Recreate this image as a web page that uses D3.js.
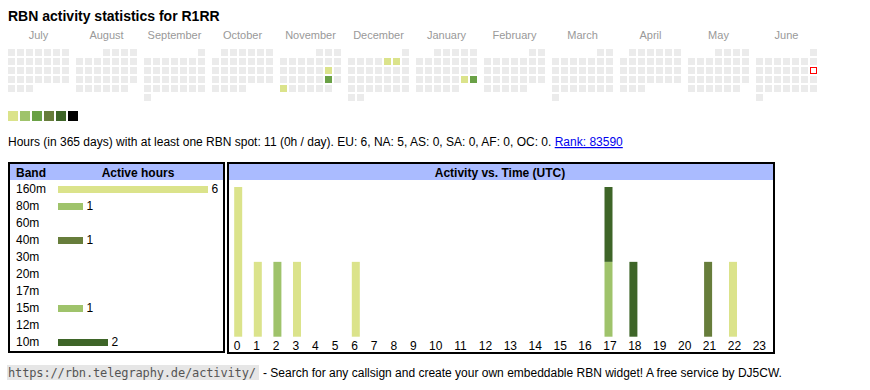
<!DOCTYPE html>
<html>
<head>
<meta charset="utf-8">
<script src="https://cdn.jsdelivr.net/npm/d3@7"></script>
<style>
body { margin: 0; background: #fff; }
text { font-family: "Liberation Sans", Arial, sans-serif; }
</style>
</head>
<body>
<script>
var svg_width = 870;
var svg_height = 390;

// ---- data ----
var callsign = "R1RR";
var months = ["July", "August", "September", "October", "November", "December",
              "January", "February", "March", "April", "May", "June"];
var calStart = new Date(2024, 6, 1);
var calEnd = new Date(2025, 6, 1);
var today = new Date(2025, 5, 15);

// days with spots, and active hours on that day
var activeDays = ["2024-11-16", "2024-11-23", "2024-11-25", "2024-12-06",
                  "2024-12-07", "2025-01-25", "2025-01-26"];
var activeDayHours = [1, 3, 1, 1, 1, 1, 3];
var levelColors = ["#dbe38b", "#9fc36b", "#6aa146", "#677d3b", "#3e6528", "#000000"];

var bands = ["160m", "80m", "60m", "40m", "30m", "20m", "17m", "15m", "12m", "10m"];
var bandHours = [6, 1, 0, 1, 0, 0, 0, 1, 0, 2];
var bandLevel = [1, 2, 3, 4, 3, 3, 3, 2, 5, 5];

var hours = d3.range(24);
// active hours per UTC hour, per band (only bands with activity)
var act160m = [2, 1, 0, 1, 0, 0, 1, 0, 0, 0, 0, 0, 0, 0, 0, 0, 0, 0, 0, 0, 0, 0, 1, 0];
var act80m  = [0, 0, 1, 0, 0, 0, 0, 0, 0, 0, 0, 0, 0, 0, 0, 0, 0, 0, 0, 0, 0, 0, 0, 0];
var act40m  = [0, 0, 0, 0, 0, 0, 0, 0, 0, 0, 0, 0, 0, 0, 0, 0, 0, 0, 0, 0, 0, 1, 0, 0];
var act15m  = [0, 0, 0, 0, 0, 0, 0, 0, 0, 0, 0, 0, 0, 0, 0, 0, 0, 1, 0, 0, 0, 0, 0, 0];
var act10m  = [0, 0, 0, 0, 0, 0, 0, 0, 0, 0, 0, 0, 0, 0, 0, 0, 0, 1, 1, 0, 0, 0, 0, 0];

var continents = ["EU", "NA", "AS", "SA", "AF", "OC"];
var continentHours = [6, 5, 0, 0, 0, 0];
var totalHours = 11;
var rank = 83590;

var svg = d3.select("body").append("svg")
            .attr("width", svg_width)
            .attr("height", svg_height);

// ---- title ----
svg.append("text")
   .attr("x", 8).attr("y", 21)
   .attr("font-size", 14).attr("font-weight", "bold")
   .text("RBN activity statistics for " + callsign);

// ---- calendar ----
var level = d3.scaleThreshold().domain([2, 3, 4, 5, 6]).range(levelColors);
var monthX = d3.scaleLinear().domain([0, 12]).range([8, 8 + 12 * 68]);
var dayX = d3.scaleLinear().domain([0, 7]).range([0, 63]);
var weekY = d3.scaleLinear().domain([0, 6]).range([49, 103]);
var CELL = 7;

var parse = d3.timeParse("%Y-%m-%d");
var dayHours = {};
activeDays.forEach(function(d, i) { dayHours[+parse(d)] = activeDayHours[i]; });

var days = d3.timeDay.range(calStart, calEnd);
function cellX(d) {
    return monthX(d3.timeMonth.count(calStart, d)) + dayX((d.getDay() + 6) % 7);
}
function cellY(d) {
    return weekY(d3.timeMonday.count(d3.timeMonth.floor(d), d));
}

svg.append("g").selectAll("text")
   .data(months).enter().append("text")
   .attr("x", (d, i) => monthX(i) + 30.5)
   .attr("y", 39)
   .attr("text-anchor", "middle")
   .attr("font-size", 11)
   .attr("fill", "#999")
   .text(d => d);

svg.append("g").selectAll("rect")
   .data(days).enter().append("rect")
   .attr("x", d => cellX(d))
   .attr("y", d => cellY(d))
   .attr("width", CELL).attr("height", CELL)
   .attr("fill", function(d) {
       var h = dayHours[+d];
       return h ? level(h) : "#ebebeb";
   });

// today marker
svg.append("rect")
   .attr("x", cellX(today) + 0.5).attr("y", cellY(today) + 0.5)
   .attr("width", CELL - 1).attr("height", CELL - 1)
   .attr("fill", "#fff").attr("stroke", "#f00").attr("stroke-width", 1);

// legend
svg.append("g").selectAll("rect")
   .data(levelColors).enter().append("rect")
   .attr("x", (d, i) => 8 + i * 12).attr("y", 111)
   .attr("width", 10).attr("height", 10)
   .attr("fill", d => d);

// ---- summary line ----
var summary = svg.append("text")
   .attr("x", 8).attr("y", 146)
   .attr("font-size", 12);
summary.append("tspan")
   .text("Hours (in 365 days) with at least one RBN spot: " + totalHours +
         " (" + Math.round(totalHours / 365) + "h / day). " +
         continents.map((c, i) => c + ": " + continentHours[i]).join(", ") + ".\u00a0");
summary.append("tspan")
   .attr("fill", "#0000ee")
   .attr("text-decoration", "underline")
   .text("Rank: " + rank);

// ---- band table ----
var headBlue = "#aabbff";
var bandColor = bandLevel.map(l => levelColors[l - 1]);

svg.append("rect").attr("x", 9).attr("y", 163).attr("width", 215).attr("height", 189)
   .attr("fill", "#fff").attr("stroke", "#000").attr("stroke-width", 2);
svg.append("rect").attr("x", 10).attr("y", 164).attr("width", 213).attr("height", 16)
   .attr("fill", headBlue);
svg.append("text").attr("x", 16).attr("y", 177)
   .attr("font-size", 12).attr("font-weight", "bold").text("Band");
svg.append("text").attr("x", 138).attr("y", 177).attr("text-anchor", "middle")
   .attr("font-size", 12).attr("font-weight", "bold").text("Active hours");

var rowY = d3.scaleBand().domain(bands).range([181, 181 + 17 * bands.length]);
var hoursX = d3.scaleLinear().domain([0, 6]).range([0, 150]);

var rows = svg.append("g").selectAll("g")
   .data(bands).enter().append("g")
   .attr("transform", d => "translate(0," + rowY(d) + ")");
rows.append("text")
   .attr("x", 16).attr("y", 12)
   .attr("font-size", 12)
   .text(d => d);
rows.filter((d, i) => bandHours[i] > 0).append("rect")
   .attr("x", 58).attr("y", 5)
   .attr("width", d => hoursX(bandHours[bands.indexOf(d)]))
   .attr("height", 7)
   .attr("fill", d => bandColor[bands.indexOf(d)]);
rows.filter((d, i) => bandHours[i] > 0).append("text")
   .attr("x", d => 58 + hoursX(bandHours[bands.indexOf(d)]) + 3.5)
   .attr("y", 12)
   .attr("font-size", 12)
   .text(d => bandHours[bands.indexOf(d)]);

// ---- activity vs time ----
svg.append("rect").attr("x", 228).attr("y", 163).attr("width", 546).attr("height", 190)
   .attr("fill", "#fff").attr("stroke", "#000").attr("stroke-width", 2);
svg.append("rect").attr("x", 229).attr("y", 164).attr("width", 544).attr("height", 16)
   .attr("fill", headBlue);
svg.append("text").attr("x", 500).attr("y", 177).attr("text-anchor", "middle")
   .attr("font-size", 12).attr("font-weight", "bold").text("Activity vs. Time (UTC)");

var perBand = {"160m": act160m, "80m": act80m, "40m": act40m, "15m": act15m, "10m": act10m};
var table = hours.map(function(h) {
    var row = {hour: h};
    bands.forEach(function(b) { row[b] = perBand[b] ? perBand[b][h] : 0; });
    return row;
});
var stacked = d3.stack().keys(bands)(table);

// single-digit columns are narrower than two-digit ones
var hourX = d3.scaleLinear().domain([0, 10, 24]).range([227.2, 423.2, 771.8]);
var countY = d3.scaleLinear().domain([0, 2]).range([336.7, 187]);

svg.append("g").selectAll("g")
   .data(stacked).enter().append("g")
   .attr("fill", d => bandColor[bands.indexOf(d.key)])
   .selectAll("rect")
   .data(d => d.filter(s => s[1] > s[0])).enter().append("rect")
   .attr("x", d => hourX(d.data.hour) + 7)
   .attr("y", d => countY(d[1]))
   .attr("width", 8)
   .attr("height", d => countY(d[0]) - countY(d[1]));

svg.append("g").selectAll("text")
   .data(hours).enter().append("text")
   .attr("x", h => (hourX(h) + hourX(h + 1)) / 2)
   .attr("y", 350)
   .attr("text-anchor", "middle")
   .attr("font-size", 12)
   .text(h => h);

// ---- footer ----
svg.append("rect").attr("x", 7).attr("y", 365).attr("width", 252).attr("height", 15)
   .attr("fill", "#e6e6e6");
svg.append("text").attr("x", 8).attr("y", 377)
   .attr("font-size", 12).attr("fill", "#555")
   .attr("textLength", 248).attr("lengthAdjust", "spacing")
   .style("font-family", "'DejaVu Sans Mono', monospace")
   .text("https://rbn.telegraphy.de/activity/");
svg.append("text").attr("x", 263).attr("y", 377)
   .attr("font-size", 12)
   .text("- Search for any callsign and create your own embeddable RBN widget! A free service by DJ5CW.");
</script>
</body>
</html>
